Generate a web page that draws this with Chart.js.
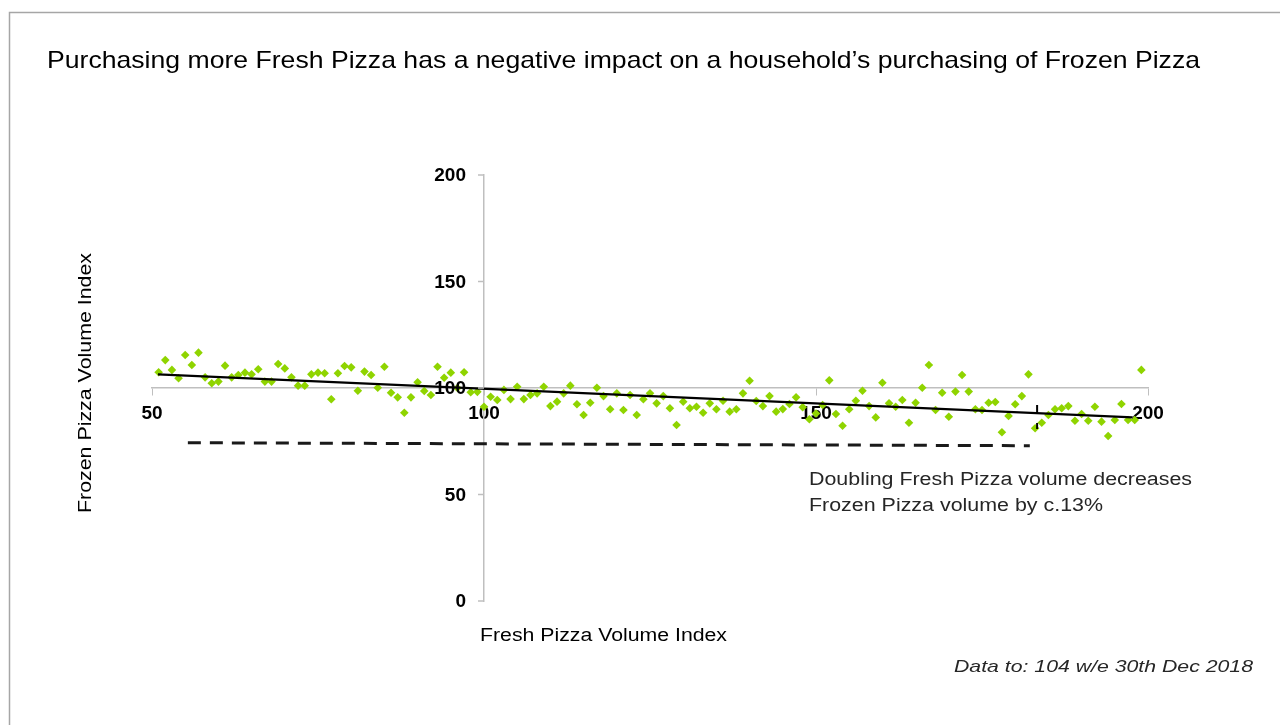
<!DOCTYPE html>
<html>
<head>
<meta charset="utf-8">
<title>Fresh vs Frozen Pizza</title>
<script src="https://cdn.jsdelivr.net/npm/chart.js@4.4.1/dist/chart.umd.min.js"></script>
<style>
  html, body { margin: 0; padding: 0; background: #fff; }
  #wrap { position: relative; width: 1280px; height: 725px; }
</style>
</head>
<body>
<div id="wrap"><canvas id="chartPizza" width="1280" height="725"></canvas></div>
<script>
// Fresh Pizza Volume Index (x) for each household group
const freshIndex = [
  51, 52, 53, 54, 55, 56, 57, 58, 59, 60, 61, 62, 63, 64, 65, 66, 67, 68, 69, 70,
  71, 72, 73, 74, 75, 76, 77, 78, 79, 80, 81, 82, 83, 84, 85, 86, 87, 88, 89, 90,
  91, 92, 93, 94, 95, 96, 97, 98, 99, 100, 101, 102, 103, 104, 105, 106, 107, 108, 109, 110,
  111, 112, 113, 114, 115, 116, 117, 118, 119, 120, 121, 122, 123, 124, 125, 126, 127, 128, 129, 130,
  131, 132, 133, 134, 135, 136, 137, 138, 139, 140, 141, 142, 143, 144, 145, 146, 147, 148, 149, 150,
  151, 152, 153, 154, 155, 156, 157, 158, 159, 160, 161, 162, 163, 164, 165, 166, 167, 168, 169, 170,
  171, 172, 173, 174, 175, 176, 177, 178, 179, 180, 181, 182, 183, 184, 185, 186, 187, 188, 189, 190,
  191, 192, 193, 194, 195, 196, 197, 198, 199
];
// Frozen Pizza Volume Index (y)
const frozenIndex = [
  107.4, 113.1, 108.5, 104.6, 115.5, 110.8, 116.6, 105.0, 102.2, 103.0,
  110.5, 105.0, 106.1, 107.2, 106.4, 108.8, 103.0, 103.0, 111.3, 109.2,
  105.0, 101.1, 101.1, 106.4, 107.2, 106.9, 94.7, 106.9, 110.3, 109.7,
  98.7, 107.7, 106.1, 100.1, 110.0, 97.8, 95.6, 88.4, 95.6, 102.7,
  98.6, 96.7, 110.0, 104.8, 107.2, 100.0, 107.4, 98.0, 98.2, 91.2,
  95.9, 94.4, 99.1, 94.8, 100.6, 94.8, 96.7, 97.5, 100.6, 91.5,
  93.6, 97.5, 101.1, 92.4, 87.3, 93.1, 100.1, 96.2, 90.0, 97.5,
  89.7, 96.7, 87.3, 94.7, 97.5, 92.8, 96.2, 90.5, 82.6, 93.6,
  90.5, 91.2, 88.4, 92.8, 90.0, 94.0, 88.9, 90.0, 97.5, 103.4,
  93.9, 91.5, 96.2, 88.9, 90.1, 92.5, 95.6, 91.0, 85.3, 88.0,
  92.0, 103.6, 87.8, 82.3, 90.0, 94.0, 98.7, 91.5, 86.2, 102.5,
  92.8, 91.2, 94.4, 83.7, 93.1, 100.1, 110.8, 89.7, 97.8, 86.5,
  98.3, 106.1, 98.3, 90.0, 89.7, 93.1, 93.4, 79.2, 86.9, 92.4,
  96.2, 106.4, 81.1, 83.7, 87.3, 90.0, 90.5, 91.5, 84.6, 87.8,
  84.6, 91.2, 84.2, 77.5, 85.0, 92.5, 85.0, 85.0, 108.5
];
// trend line end points
const trendX = [50.9, 197.7];
const trendY = [106.4, 86.2];
// dashed reference line
const dashX = [55.4, 182.2];
const dashY = [74.3, 72.9];
// small black marker at the crossing
const markX = [183.3, 183.3, 183.3, 183.3, 183.3];
const markY = [92.0, 88.3, null, 83.6, 80.8];

const xTicks = [50, 100, 150, 200];
const yTicks = [0, 50, 100, 150, 200];

const titleText = 'Purchasing more Fresh Pizza has a negative impact on a household\u2019s purchasing of Frozen Pizza';
const xTitle = 'Fresh Pizza Volume Index';
const yTitle = 'Frozen Pizza Volume Index';
const noteLines = ['Doubling Fresh Pizza volume decreases', 'Frozen Pizza volume by c.13%'];
const footText = 'Data to: 104 w/e 30th Dec 2018';

const toPoints = (xs, ys) => xs.map((x, i) => ({ x: x, y: ys[i] }));
const FONT = '"Liberation Sans", Arial, sans-serif';

// write a line of text squeezed / stretched to a given width
function fitText(ctx, text, x, y, font, width, color) {
  ctx.save();
  ctx.font = font;
  ctx.fillStyle = color;
  ctx.textBaseline = 'middle';
  ctx.textAlign = 'left';
  const w = ctx.measureText(text).width;
  ctx.translate(x, y);
  if (width) ctx.scale(width / w, 1);
  ctx.fillText(text, 0, 0);
  ctx.restore();
}

const textPlugin = {
  id: 'pageText',
  beforeDraw(chart) {
    const ctx = chart.ctx;
    ctx.save();
    ctx.fillStyle = '#fff';
    ctx.fillRect(0, 0, chart.width, chart.height);
    // frame of the slide
    ctx.strokeStyle = '#a6a6a6';
    ctx.lineWidth = 1.5;
    ctx.beginPath();
    ctx.moveTo(9.5, 725);
    ctx.lineTo(9.5, 12.5);
    ctx.lineTo(1280, 12.5);
    ctx.stroke();
    ctx.restore();
  },
  afterDatasetsDraw(chart) {
    // y axis tick marks and labels, left of the crossing axis
    const ctx = chart.ctx;
    const ys = chart.scales.y;
    const axisX = chart.scales.x.getPixelForValue(100);
    ctx.save();
    ctx.strokeStyle = '#bfbfbf';
    ctx.lineWidth = 1.5;
    ctx.font = 'bold 19px ' + FONT;
    ctx.fillStyle = '#000';
    ctx.textAlign = 'right';
    ctx.textBaseline = 'middle';
    yTicks.forEach(v => {
      const py = ys.getPixelForValue(v);
      ctx.beginPath();
      ctx.moveTo(axisX - 6, py);
      ctx.lineTo(axisX, py);
      ctx.stroke();
      ctx.fillText(String(v), axisX - 18, py + 1);
    });
    ctx.restore();
  },
  afterDraw(chart) {
    const ctx = chart.ctx;
    fitText(ctx, titleText, 47, 61, '24px ' + FONT, 1153, '#000');
    fitText(ctx, xTitle, 480, 636, '18px ' + FONT, 247, '#000');
    fitText(ctx, noteLines[0], 809, 480, '18px ' + FONT, 383, '#262626');
    fitText(ctx, noteLines[1], 809, 506, '18px ' + FONT, 294, '#262626');
    fitText(ctx, footText, 954, 667, 'italic 17px ' + FONT, 299, '#262626');
    ctx.save();
    ctx.translate(86, 513);
    ctx.rotate(-Math.PI / 2);
    fitText(ctx, yTitle, 0, 0, '18px ' + FONT, 260, '#000');
    ctx.restore();
  }
};

const tickFont = { family: FONT, size: 19, weight: 'bold' };

const ctxPizza = document.getElementById('chartPizza').getContext('2d');
const chartPizza = new Chart(ctxPizza, {
  type: 'scatter',
  data: {
    datasets: [
      {
        label: 'Trend',
        type: 'line',
        data: toPoints(trendX, trendY),
        borderColor: '#000',
        borderWidth: 2.2,
        pointRadius: 0,
        order: 0
      },
      {
        label: 'Marker',
        type: 'line',
        data: toPoints(markX, markY),
        borderColor: '#000',
        borderWidth: 2,
        pointRadius: 0,
        spanGaps: false,
        order: 0
      },
      {
        label: 'Reference',
        type: 'line',
        data: toPoints(dashX, dashY),
        borderColor: '#1a1a1a',
        borderWidth: 3,
        borderDash: [13, 9],
        pointRadius: 0,
        order: 0
      },
      {
        label: 'Households',
        data: toPoints(freshIndex, frozenIndex),
        pointStyle: 'rectRot',
        pointRadius: 4.3,
        pointBackgroundColor: '#8fd400',
        pointBorderColor: '#8fd400',
        pointBorderWidth: 0,
        order: 1
      }
    ]
  },
  options: {
    responsive: false,
    animation: false,
    events: [],
    layout: { padding: { left: 152, right: 132, top: 175, bottom: 124 } },
    plugins: {
      legend: { display: false },
      tooltip: { enabled: false },
      title: { display: false }
    },
    scales: {
      x: {
        type: 'linear',
        min: 50,
        max: 200,
        position: { y: 100 },
        afterBuildTicks: (axis) => { axis.ticks = xTicks.map(v => ({ value: v })); },
        grid: { display: true, drawOnChartArea: false, drawTicks: true, tickLength: 7, color: '#bfbfbf' },
        border: { display: true, color: '#bfbfbf', width: 1.5 },
        ticks: { font: tickFont, color: '#000', padding: 7, maxRotation: 0 }
      },
      y: {
        type: 'linear',
        min: 0,
        max: 200,
        position: { x: 100 },
        afterBuildTicks: (axis) => { axis.ticks = yTicks.map(v => ({ value: v })); },
        grid: { display: false },
        border: { display: true, color: '#bfbfbf', width: 1.5 },
        ticks: { display: false }
      }
    }
  },
  plugins: [textPlugin]
});
</script>
</body>
</html>
